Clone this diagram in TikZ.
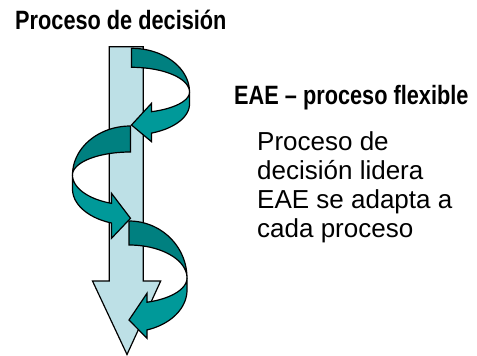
\documentclass[tikz,border=0pt]{standalone}
\usepackage{fontspec}
\setmainfont{Liberation Sans}
\newfontfamily\narrowfont[FakeStretch=0.82]{Liberation Sans}
\definecolor{shaftblue}{RGB}{189,224,230}
\definecolor{darkteal}{RGB}{0,128,128}
\definecolor{lightteal}{RGB}{0,153,153}
\tikzset{
	shaft/.style={draw=black, fill=shaftblue, line width=1.2pt},
	back/.style={draw=black, fill=darkteal, line width=1.2pt},
	front/.style={draw=black, fill=lightteal, line width=1.2pt}
}
% #1 outer, #2 inner, #3 upper front, #4 drop, #5 lower front, #6 wing x, #7-#9 wing, tip, wing
\newcommand{\curl}[9]{%
	\pgfmathsetmacro\wang{acos(#6/58)}%
	\draw[back] plot[domain=270:360, samples=40] ({58*cos(\x)},{#1*sin(\x)})
		-- plot[domain=360:270, samples=40] ({58*cos(\x)},{#2*sin(\x)}) -- cycle;
	\draw[front] plot[domain=0:\wang, samples=40] ({58*cos(\x)},{#3*sin(\x)})
		-- (#6,#7) -- (0,#8) -- (#6,#9)
		-- plot[domain=\wang:0, samples=40] ({58*cos(\x)},{#4+#5*sin(\x)}) -- cycle;}

\begin{document}
\begin{tikzpicture}[x=1pt, y=-1pt]
	\useasboundingbox (0,0) rectangle (477,356);
	\coordinate (S1) at (109.3,46.7);
	\coordinate (S2) at (143.3,46.7);
	\coordinate (S3) at (143.3,281);
	\coordinate (S4) at (160.7,281);
	\coordinate (S5) at (127,354.5);
	\coordinate (S6) at (92.5,281);
	\coordinate (S7) at (109.3,281);
	\draw[shaft] (S1) -- (S2) -- (S3) -- (S4) -- (S5) -- (S6) -- (S7) -- cycle;
	\begin{scope}[shift={(131.5,92)}]
	\curl{43.7}{24.7}{21}{12}{31}{20}{11.3}{33}{49.7}
	\end{scope}
	\begin{scope}[shift={(130.5,175)}, xscale=-1]
	\curl{49}{23}{30}{14}{36}{19}{18.3}{43.3}{63.3}
	\end{scope}
	\begin{scope}[shift={(129,278)}]
	\curl{57}{33}{25.5}{12}{42}{18}{15.3}{42}{60.3}
	\end{scope}
	\node[anchor=base west, inner sep=0, font=\narrowfont\bfseries\fontsize{26.5}{29}\selectfont] (title) at (15,30) {Proceso de decisión};
	\node[anchor=base west, inner sep=0, font=\narrowfont\bfseries\fontsize{26.5}{29}\selectfont] (eae) at (234,104) {EAE – proceso flexible};
	\node[anchor=base west, inner sep=0, align=left, font=\fontsize{26}{29}\selectfont] (note) at (257,237) {Proceso de\\decisión lidera\\EAE se adapta a\\cada proceso};
\end{tikzpicture}
\end{document}
